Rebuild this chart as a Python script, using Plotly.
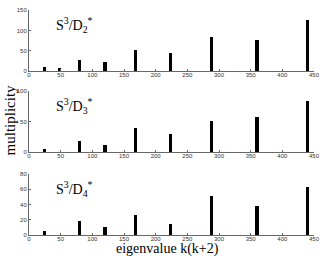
import plotly.graph_objects as go

eigenvalues = [24, 48, 80, 120, 168, 224, 288, 360, 440]
mult_D2 = [10, 7, 27, 22, 52, 45, 85, 76, 126]
mult_D3 = [5, 0, 18, 11, 39, 30, 51, 57, 84]
mult_D4 = [5, 0, 18, 11, 26, 15, 51, 38, 63]
labels = ["S<sup>3</sup>/D<sub>2</sub><sup>*</sup>",
          "S<sup>3</sup>/D<sub>3</sub><sup>*</sup>",
          "S<sup>3</sup>/D<sub>4</sub><sup>*</sup>"]
x_ticks = [0, 50, 100, 150, 200, 250, 300, 350, 400, 450]

fig = go.Figure()
series = [mult_D2, mult_D3, mult_D4]
ranges = [[0, 150], [0, 100], [0, 80]]
dtick = [50, 50, 20]
domains = [[0.728, 1.0], [0.368, 0.640], [0.0, 0.272]]

for i, vals in enumerate(series):
    n = "" if i == 0 else str(i + 1)
    fig.add_trace(go.Bar(x=eigenvalues, y=vals, width=5, marker_color="black",
                         marker_line_width=0, xaxis="x" + n, yaxis="y" + n,
                         showlegend=False, hoverinfo="skip"))
    axstyle = dict(showline=True, linecolor="#666", linewidth=1, ticks="inside",
                   ticklen=2, tickcolor="#666", showgrid=False, zeroline=False,
                   tickfont=dict(family="Liberation Sans, Arial", size=6, color="#333"))
    fig.layout["xaxis" + n] = dict(axstyle, range=[0, 450], tickvals=x_ticks,
                                   anchor="y" + n, domain=[0, 1], ticklabelstandoff=-2)
    fig.layout["yaxis" + n] = dict(axstyle, range=ranges[i], dtick=dtick[i],
                                   anchor="x" + n, domain=domains[i])
    fig.add_annotation(text=labels[i], xref="x" + n, yref="y" + n + " domain",
                       x=40, y=0.75, xanchor="left", yanchor="middle", showarrow=False,
                       font=dict(family="Liberation Serif, Times New Roman", size=14, color="black"))

fig.add_annotation(text="multiplicity", xref="paper", yref="paper", x=-0.066, y=0.51,
                   textangle=-90, showarrow=False, xanchor="center", yanchor="middle",
                   font=dict(family="Liberation Serif, Times New Roman", size=15, color="black"))
fig.add_annotation(text="eigenvalue k(k+2)", xref="paper", yref="paper", x=0.486, y=-0.062,
                   showarrow=False, xanchor="center", yanchor="middle",
                   font=dict(family="Liberation Serif, Times New Roman", size=14, color="black"))

fig.update_layout(width=327, height=259, margin=dict(l=29, r=8, t=7, b=24),
                  plot_bgcolor="white", paper_bgcolor="white", bargap=0)
fig.write_html("out.html", config={"displayModeBar": False},
               post_script="document.body.style.margin='0';")
